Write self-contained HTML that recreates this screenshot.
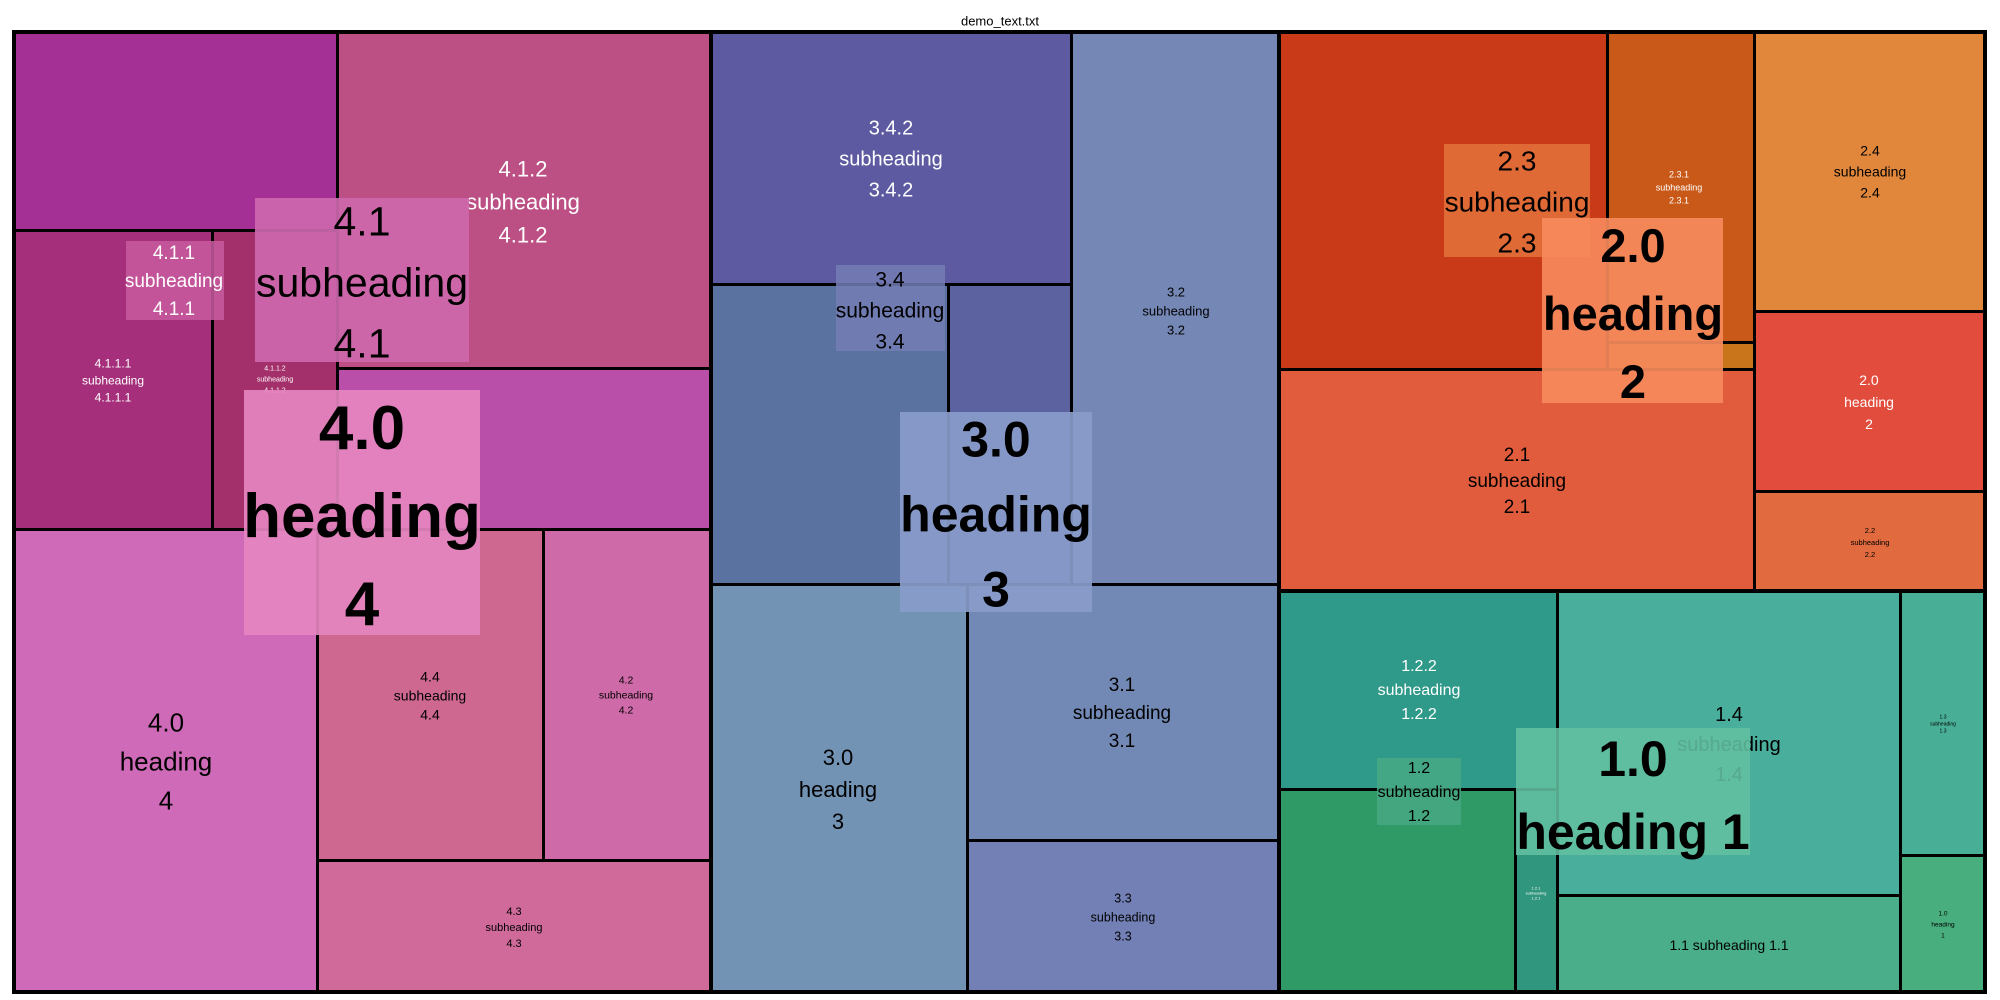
<!DOCTYPE html>
<html><head><meta charset="utf-8"><style>
body{margin:0;width:2000px;height:1000px;background:#fff;position:relative;overflow:hidden;font-family:"Liberation Sans",sans-serif}
.r{position:absolute;box-sizing:border-box;border:2.5px solid #000}
.o{position:absolute}
.t{position:absolute;transform:translate(-50%,-50%);text-align:center;white-space:nowrap}
.t span{display:block}
</style></head><body>
<div class="t" style="left:1000px;top:21px;font-size:13px">demo_text.txt</div>
<div class="r" style="left:14px;top:32px;width:324px;height:199px;background:#a43095"></div>
<div class="r" style="left:337px;top:32px;width:375px;height:337px;background:#bc5084"></div>
<div class="r" style="left:14px;top:230px;width:199px;height:300px;background:#a52f7b"></div>
<div class="r" style="left:212px;top:230px;width:126px;height:300px;background:#a3306a"></div>
<div class="r" style="left:337px;top:368px;width:375px;height:162px;background:#b94fa8"></div>
<div class="r" style="left:14px;top:529px;width:304px;height:464px;background:#cf6ab8"></div>
<div class="r" style="left:317px;top:529px;width:227px;height:332px;background:#cf6891"></div>
<div class="r" style="left:543px;top:529px;width:169px;height:332px;background:#cf6aa8"></div>
<div class="r" style="left:317px;top:860px;width:395px;height:133px;background:#cf6a9a"></div>
<div class="r" style="left:711px;top:32px;width:361px;height:253px;background:#5e5aa2"></div>
<div class="r" style="left:711px;top:284px;width:238px;height:301px;background:#5a72a0"></div>
<div class="r" style="left:948px;top:284px;width:124px;height:301px;background:#5c62a0"></div>
<div class="r" style="left:1071px;top:32px;width:209px;height:553px;background:#7487b5"></div>
<div class="r" style="left:711px;top:584px;width:257px;height:409px;background:#7393b5"></div>
<div class="r" style="left:967px;top:584px;width:313px;height:257px;background:#7389b5"></div>
<div class="r" style="left:967px;top:840px;width:313px;height:153px;background:#7280b5"></div>
<div class="r" style="left:1279px;top:32px;width:329px;height:338px;background:#c93a18"></div>
<div class="r" style="left:1607px;top:32px;width:148px;height:311px;background:#c85918"></div>
<div class="r" style="left:1607px;top:342px;width:148px;height:28px;background:#c8751c"></div>
<div class="r" style="left:1754px;top:32px;width:231px;height:280px;background:#e0873c"></div>
<div class="r" style="left:1754px;top:311px;width:231px;height:181px;background:#e24c3c"></div>
<div class="r" style="left:1754px;top:491px;width:231px;height:101px;background:#e16a3e"></div>
<div class="r" style="left:1279px;top:369px;width:476px;height:223px;background:#e05c3c"></div>
<div class="r" style="left:1279px;top:591px;width:279px;height:199px;background:#309a8a"></div>
<div class="r" style="left:1279px;top:789px;width:237px;height:204px;background:#309a66"></div>
<div class="r" style="left:1515px;top:789px;width:43px;height:204px;background:#30967e"></div>
<div class="r" style="left:1557px;top:591px;width:344px;height:305px;background:#4aae9c"></div>
<div class="r" style="left:1557px;top:895px;width:344px;height:98px;background:#4aae8a"></div>
<div class="r" style="left:1900px;top:591px;width:85px;height:265px;background:#48ae96"></div>
<div class="r" style="left:1900px;top:855px;width:85px;height:138px;background:#48ae7e"></div>
<div class="o" style="left:12px;top:30px;width:1975px;height:964px;border:4px solid #000;box-sizing:border-box"></div>
<div class="o" style="left:709px;top:32px;width:4px;height:960px;background:#000"></div>
<div class="o" style="left:1277px;top:32px;width:4px;height:960px;background:#000"></div>
<div class="o" style="left:1279px;top:589px;width:706px;height:4px;background:#000"></div>

<div class="t" style="left:523px;top:202px;font-size:22px;line-height:33px;color:#fff"><span>4.1.2</span><span>subheading</span><span>4.1.2</span></div>
<div class="t" style="left:113px;top:381px;font-size:12px;line-height:17px;color:#fff"><span>4.1.1.1</span><span>subheading</span><span>4.1.1.1</span></div>
<div class="t" style="left:275px;top:380px;font-size:7px;line-height:11px;color:#fff"><span>4.1.1.2</span><span>subheading</span><span>4.1.1.2</span></div>
<div class="t" style="left:166px;top:762px;font-size:26px;line-height:39px"><span>4.0</span><span>heading</span><span>4</span></div>
<div class="t" style="left:430px;top:696px;font-size:14px;line-height:19px"><span>4.4</span><span>subheading</span><span>4.4</span></div>
<div class="t" style="left:626px;top:696px;font-size:10.5px;line-height:15px"><span>4.2</span><span>subheading</span><span>4.2</span></div>
<div class="t" style="left:514px;top:928px;font-size:11px;line-height:16px"><span>4.3</span><span>subheading</span><span>4.3</span></div>
<div class="t" style="left:891px;top:160px;font-size:20px;line-height:31px;color:#fff"><span>3.4.2</span><span>subheading</span><span>3.4.2</span></div>
<div class="t" style="left:838px;top:790px;font-size:22px;line-height:32px"><span>3.0</span><span>heading</span><span>3</span></div>
<div class="t" style="left:1176px;top:311px;font-size:13px;line-height:19px"><span>3.2</span><span>subheading</span><span>3.2</span></div>
<div class="t" style="left:1122px;top:714px;font-size:19px;line-height:28px"><span>3.1</span><span>subheading</span><span>3.1</span></div>
<div class="t" style="left:1123px;top:918px;font-size:12.5px;line-height:19px"><span>3.3</span><span>subheading</span><span>3.3</span></div>
<div class="t" style="left:1679px;top:188px;font-size:9px;line-height:13px;color:#fff"><span>2.3.1</span><span>subheading</span><span>2.3.1</span></div>
<div class="t" style="left:1870px;top:172px;font-size:14px;line-height:21px"><span>2.4</span><span>subheading</span><span>2.4</span></div>
<div class="t" style="left:1869px;top:402px;font-size:14px;line-height:22px;color:#fff"><span>2.0</span><span>heading</span><span>2</span></div>
<div class="t" style="left:1870px;top:543px;font-size:7.5px;line-height:12px"><span>2.2</span><span>subheading</span><span>2.2</span></div>
<div class="t" style="left:1517px;top:482px;font-size:19px;line-height:26px"><span>2.1</span><span>subheading</span><span>2.1</span></div>
<div class="t" style="left:1419px;top:691px;font-size:16px;line-height:24px;color:#fff"><span>1.2.2</span><span>subheading</span><span>1.2.2</span></div>
<div class="t" style="left:1729px;top:745px;font-size:20px;line-height:30px"><span>1.4</span><span>subheading</span><span>1.4</span></div>
<div class="t" style="left:1729px;top:945px;font-size:14px">1.1 subheading 1.1</div>
<div class="t" style="left:1943px;top:725px;font-size:5px;line-height:7px"><span>1.3</span><span>subheading</span><span>1.3</span></div>
<div class="t" style="left:1943px;top:925px;font-size:6.5px;line-height:11px"><span>1.0</span><span>heading</span><span>1</span></div>
<div class="t" style="left:1536px;top:893px;font-size:4px;line-height:5px;color:#fff"><span>1.2.1</span><span>subheading</span><span>1.2.1</span></div>

<div class="o" style="left:126px;top:241px;width:98px;height:79px;background:rgba(200,90,160,0.85)"></div>
<div class="t" style="left:174px;top:282px;font-size:19px;line-height:28px;color:#fff"><span>4.1.1</span><span>subheading</span><span>4.1.1</span></div>
<div class="o" style="left:255px;top:198px;width:214px;height:164px;background:rgba(205,104,172,0.92)"></div>
<div class="t" style="left:362px;top:283px;font-size:41px;line-height:61px"><span>4.1</span><span>subheading</span><span>4.1</span></div>
<div class="o" style="left:244px;top:390px;width:236px;height:245px;background:rgba(229,134,192,0.92)"></div>
<div class="t" style="left:362px;top:517px;font-size:62px;line-height:88px;font-weight:bold"><span>4.0</span><span>heading</span><span>4</span></div>
<div class="o" style="left:836px;top:265px;width:109px;height:86px;background:rgba(115,125,180,0.85)"></div>
<div class="t" style="left:890px;top:311px;font-size:21px;line-height:31px"><span>3.4</span><span>subheading</span><span>3.4</span></div>
<div class="o" style="left:900px;top:412px;width:192px;height:200px;background:rgba(137,155,202,0.92)"></div>
<div class="t" style="left:996px;top:515px;font-size:50px;line-height:75px;font-weight:bold"><span>3.0</span><span>heading</span><span>3</span></div>
<div class="o" style="left:1444px;top:144px;width:146px;height:113px;background:rgba(226,112,58,0.9)"></div>
<div class="t" style="left:1517px;top:202px;font-size:28px;line-height:41px"><span>2.3</span><span>subheading</span><span>2.3</span></div>
<div class="o" style="left:1542px;top:218px;width:181px;height:185px;background:rgba(246,138,92,0.92)"></div>
<div class="t" style="left:1633px;top:314px;font-size:47px;line-height:68px;font-weight:bold"><span>2.0</span><span>heading</span><span>2</span></div>
<div class="o" style="left:1377px;top:758px;width:84px;height:67px;background:rgba(70,168,130,0.85)"></div>
<div class="t" style="left:1419px;top:793px;font-size:16px;line-height:24px"><span>1.2</span><span>subheading</span><span>1.2</span></div>
<div class="o" style="left:1516px;top:728px;width:234px;height:127px;background:rgba(98,192,160,0.88)"></div>
<div class="t" style="left:1633px;top:796px;font-size:50px;line-height:73px;font-weight:bold"><span>1.0</span><span>heading 1</span></div>
</body></html>
